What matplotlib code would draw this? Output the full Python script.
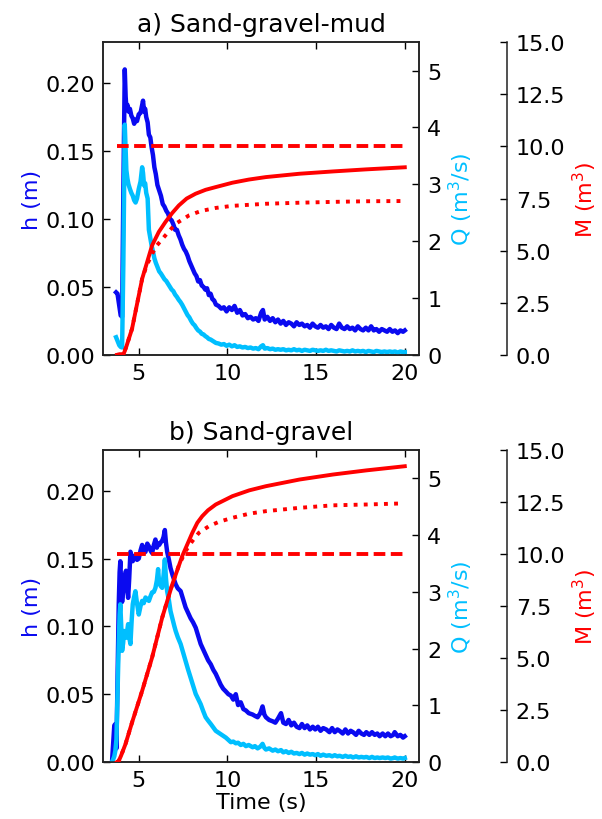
#!/usr/bin/env python3
import matplotlib
matplotlib.use("Agg")
import matplotlib.pyplot as plt

# ---- a) Sand-gravel-mud ----
t_a = [3.72, 3.80, 3.90, 3.98, 4.06, 4.13, 4.21, 4.26, 4.30, 4.36, 4.42, 4.50, 4.58, 4.66,
       4.74, 4.82, 4.90, 5.00, 5.10, 5.19, 5.24, 5.30, 5.36, 5.42, 5.50, 5.57, 5.65, 5.72,
       5.80, 5.88, 5.96, 6.05, 6.15, 6.25, 6.35, 6.45, 6.55, 6.65, 6.75, 6.85, 6.95, 7.05,
       7.15, 7.25, 7.35, 7.45, 7.55, 7.65, 7.75, 7.85, 7.95, 8.05, 8.15, 8.25, 8.35, 8.45,
       8.55, 8.65, 8.75, 8.85, 8.95, 9.05, 9.15, 9.25, 9.35, 9.50, 9.65, 9.80, 9.95, 10.10,
       10.25, 10.40, 10.55, 10.70, 10.85, 11.00, 11.15, 11.30, 11.45, 11.60, 11.75, 11.90,
       12.00, 12.10, 12.25, 12.40, 12.55, 12.70, 12.85, 13.00, 13.15, 13.30, 13.45, 13.60,
       13.75, 13.90, 14.05, 14.20, 14.35, 14.50, 14.65, 14.80, 14.95, 15.10, 15.25, 15.40,
       15.55, 15.70, 15.85, 16.00, 16.15, 16.30, 16.45, 16.60, 16.75, 16.90, 17.05, 17.20,
       17.35, 17.50, 17.65, 17.80, 17.95, 18.10, 18.25, 18.40, 18.55, 18.70, 18.85, 19.00,
       19.15, 19.30, 19.45, 19.60, 19.75, 19.90, 20.00]
h_a = [0.046, 0.045, 0.036, 0.029, 0.028, 0.120, 0.210, 0.190, 0.182, 0.184, 0.179, 0.181,
       0.176, 0.174, 0.170, 0.173, 0.172, 0.177, 0.178, 0.184, 0.187, 0.179, 0.181, 0.175,
       0.171, 0.162, 0.160, 0.153, 0.147, 0.138, 0.133, 0.125, 0.121, 0.117, 0.111, 0.109,
       0.106, 0.104, 0.100, 0.099, 0.096, 0.092, 0.092, 0.088, 0.085, 0.081, 0.078, 0.076,
       0.073, 0.069, 0.066, 0.063, 0.060, 0.058, 0.054, 0.055, 0.051, 0.050, 0.048, 0.049,
       0.044, 0.045, 0.041, 0.040, 0.037, 0.036, 0.034, 0.035, 0.032, 0.035, 0.033, 0.036,
       0.031, 0.033, 0.029, 0.030, 0.027, 0.028, 0.026, 0.027, 0.025, 0.031, 0.033, 0.026,
       0.028, 0.025, 0.027, 0.024, 0.026, 0.023, 0.025, 0.022, 0.024, 0.023, 0.021, 0.024,
       0.022, 0.023, 0.021, 0.022, 0.020, 0.023, 0.021, 0.020, 0.022, 0.020, 0.021, 0.019,
       0.022, 0.020, 0.019, 0.023, 0.020, 0.019, 0.021, 0.019, 0.020, 0.018, 0.021, 0.019,
       0.018, 0.020, 0.018, 0.021, 0.018, 0.019, 0.017, 0.019, 0.018, 0.017, 0.019, 0.017,
       0.018, 0.016, 0.018, 0.017, 0.018]
Q_a = [0.31, 0.25, 0.17, 0.14, 0.13, 1.60, 4.05, 3.60, 3.25, 3.10, 3.00, 2.92, 2.85, 2.80,
       2.72, 2.68, 2.75, 2.92, 3.05, 3.30, 3.20, 2.98, 3.02, 2.85, 2.75, 2.20, 2.05, 1.93,
       1.82, 1.70, 1.62, 1.55, 1.47, 1.43, 1.38, 1.33, 1.30, 1.25, 1.20, 1.15, 1.12, 1.06,
       1.02, 0.97, 0.93, 0.88, 0.82, 0.76, 0.70, 0.66, 0.60, 0.55, 0.52, 0.47, 0.43, 0.41,
       0.37, 0.36, 0.33, 0.31, 0.28, 0.27, 0.25, 0.23, 0.21, 0.20, 0.18, 0.19, 0.16, 0.18,
       0.15, 0.17, 0.14, 0.15, 0.13, 0.14, 0.12, 0.13, 0.11, 0.12, 0.10, 0.15, 0.17, 0.11,
       0.12, 0.10, 0.11, 0.09, 0.10, 0.09, 0.10, 0.08, 0.09, 0.08, 0.10, 0.08, 0.09, 0.07,
       0.09, 0.08, 0.07, 0.09, 0.08, 0.07, 0.08, 0.07, 0.09, 0.07, 0.08, 0.07, 0.06, 0.08,
       0.07, 0.06, 0.07, 0.06, 0.08, 0.06, 0.07, 0.06, 0.07, 0.05, 0.07, 0.06, 0.05, 0.07,
       0.06, 0.05, 0.06, 0.05, 0.06, 0.05, 0.06, 0.04, 0.06, 0.05, 0.05]
tM_a = [3.77, 4.15, 4.30, 4.62, 5.19, 5.75, 6.13, 6.50, 6.88, 7.26, 7.70, 8.20, 8.77, 9.34,
        10.28, 11.20, 12.17, 14.06, 15.94, 17.83, 20.00]
M_a = [0.0, 0.05, 0.4, 1.25, 3.65, 5.25, 5.9, 6.37, 6.8, 7.17, 7.5, 7.73, 7.92, 8.05,
       8.26, 8.41, 8.53, 8.69, 8.8, 8.9, 9.0]
tM2_a = [3.77, 4.15, 4.30, 4.62, 5.19, 5.45, 5.94, 6.50, 7.08, 7.83, 8.50, 9.34, 10.28,
         12.17, 14.06, 15.94, 17.83, 19.81]
M2_a = [0.0, 0.05, 0.4, 1.25, 3.65, 4.3, 5.17, 5.73, 6.29, 6.69, 6.9, 7.05, 7.15,
        7.25, 7.3, 7.34, 7.37, 7.38]

# ---- b) Sand-gravel ----
t_b = [3.49, 3.56, 3.62, 3.68, 3.74, 3.80, 3.87, 3.92, 3.96, 4.01, 4.06, 4.12, 4.17, 4.22,
       4.28, 4.34, 4.40, 4.46, 4.53, 4.60, 4.66, 4.73, 4.81, 4.90, 5.00, 5.10, 5.19, 5.28,
       5.38, 5.48, 5.57, 5.66, 5.75, 5.85, 5.94, 6.02, 6.09, 6.15, 6.24, 6.32, 6.40, 6.47,
       6.53, 6.60, 6.70, 6.79, 6.90, 7.00, 7.08, 7.20, 7.36, 7.50, 7.64, 7.78, 7.92, 8.06,
       8.21, 8.35, 8.49, 8.63, 8.77, 8.91, 9.06, 9.20, 9.34, 9.48, 9.62, 9.76, 9.91, 10.05,
       10.19, 10.33, 10.47, 10.60, 10.75, 10.90, 11.04, 11.20, 11.42, 11.55, 11.70, 11.85,
       11.98, 12.08, 12.17, 12.35, 12.55, 12.70, 12.85, 13.02, 13.15, 13.30, 13.45, 13.60,
       13.75, 13.90, 14.06, 14.20, 14.35, 14.50, 14.65, 14.81, 14.95, 15.10, 15.25, 15.40,
       15.57, 15.75, 15.90, 16.05, 16.20, 16.32, 16.50, 16.65, 16.80, 16.95, 17.08, 17.25,
       17.40, 17.55, 17.70, 17.83, 18.00, 18.15, 18.30, 18.45, 18.58, 18.75, 18.90, 19.05,
       19.20, 19.35, 19.43, 19.60, 19.75, 19.90, 20.00]
h_b = [0.000, 0.015, 0.027, 0.028, 0.010, 0.060, 0.116, 0.140, 0.148, 0.130, 0.118, 0.125,
       0.131, 0.138, 0.141, 0.130, 0.121, 0.135, 0.155, 0.150, 0.148, 0.152, 0.152, 0.149,
       0.150, 0.156, 0.160, 0.154, 0.155, 0.161, 0.159, 0.156, 0.154, 0.160, 0.164, 0.158,
       0.161, 0.160, 0.162, 0.163, 0.166, 0.171, 0.162, 0.155, 0.149, 0.143, 0.138, 0.134,
       0.131, 0.128, 0.126, 0.120, 0.114, 0.110, 0.106, 0.103, 0.099, 0.093, 0.087, 0.083,
       0.079, 0.075, 0.072, 0.068, 0.065, 0.061, 0.057, 0.054, 0.052, 0.050, 0.049, 0.046,
       0.050, 0.042, 0.044, 0.039, 0.038, 0.036, 0.035, 0.034, 0.033, 0.036, 0.041, 0.035,
       0.033, 0.031, 0.030, 0.029, 0.032, 0.036, 0.029, 0.028, 0.031, 0.027, 0.029, 0.026,
       0.025, 0.028, 0.025, 0.027, 0.024, 0.026, 0.024, 0.026, 0.023, 0.025, 0.024, 0.022,
       0.025, 0.022, 0.024, 0.023, 0.021, 0.024, 0.021, 0.023, 0.022, 0.020, 0.023, 0.021,
       0.020, 0.022, 0.020, 0.022, 0.020, 0.021, 0.019, 0.021, 0.019, 0.021, 0.019, 0.020,
       0.022, 0.019, 0.020, 0.018, 0.019]
Q_b = [0.00, 0.05, 0.10, 0.20, 0.40, 1.20, 2.10, 2.60, 2.78, 2.40, 1.96, 2.10, 2.31, 2.25,
       2.19, 2.30, 2.43, 2.20, 2.08, 2.50, 2.78, 2.90, 3.01, 2.80, 2.60, 2.75, 2.84, 2.80,
       2.90, 2.87, 2.84, 2.92, 2.99, 3.00, 3.07, 3.20, 3.40, 3.15, 3.10, 3.07, 3.30, 3.57,
       3.25, 3.01, 2.85, 2.66, 2.52, 2.40, 2.31, 2.20, 2.08, 1.93, 1.78, 1.63, 1.49, 1.35,
       1.20, 1.11, 1.02, 0.90, 0.79, 0.73, 0.67, 0.61, 0.55, 0.52, 0.49, 0.46, 0.43, 0.39,
       0.35, 0.36, 0.33, 0.34, 0.30, 0.32, 0.28, 0.30, 0.26, 0.28, 0.24, 0.27, 0.32, 0.25,
       0.22, 0.24, 0.20, 0.22, 0.19, 0.21, 0.17, 0.19, 0.16, 0.18, 0.15, 0.16, 0.14, 0.16,
       0.13, 0.15, 0.13, 0.14, 0.12, 0.14, 0.11, 0.13, 0.11, 0.12, 0.10, 0.12, 0.10, 0.11,
       0.09, 0.11, 0.09, 0.10, 0.08, 0.10, 0.08, 0.09, 0.08, 0.09, 0.07, 0.09, 0.07, 0.08,
       0.07, 0.08, 0.07, 0.08, 0.06, 0.07, 0.08, 0.06, 0.07, 0.06, 0.07]
tM_b = [3.77, 3.87, 4.00, 4.25, 4.62, 5.19, 5.75, 6.32, 6.89, 7.45, 8.02, 8.30, 8.58,
        8.90, 9.34, 10.28, 11.23, 12.17, 14.06, 15.94, 17.83, 20.00]
M_b = [0.0, 0.05, 0.3, 0.86, 1.9, 3.42, 5.02, 6.94, 8.54, 9.9, 11.02, 11.5, 11.82,
       12.1, 12.38, 12.78, 13.06, 13.26, 13.58, 13.82, 14.02, 14.22]
tM2_b = [3.77, 3.87, 4.00, 4.25, 4.62, 5.19, 5.75, 6.32, 6.89, 7.26, 7.64, 8.02, 8.39,
         8.96, 9.53, 10.28, 11.23, 12.17, 14.06, 15.94, 17.83, 19.81]
M2_b = [0.0, 0.05, 0.3, 0.86, 1.9, 3.42, 5.02, 6.94, 8.54, 9.45, 10.14, 10.62, 11.02,
        11.34, 11.55, 11.74, 11.94, 12.06, 12.22, 12.34, 12.38, 12.43]

M_limit = 10.0
h_ticks = [0.0, 0.05, 0.10, 0.15, 0.20]
Q_ticks = [0, 1, 2, 3, 4, 5]
M_ticks = [0.0, 2.5, 5.0, 7.5, 10.0, 12.5, 15.0]
t_ticks = [5, 10, 15, 20]

dark_blue = "#0a0af0"
light_blue = "#00bfff"
red = "#ff0000"
fs = 16

fig = plt.figure(figsize=(6.02, 8.2), dpi=100)


def panel(rect, title, t, h, Q, tM, M, tM2, M2, xlabel=None):
    ax = fig.add_axes(rect)
    ax2 = ax.twinx()
    ax3 = ax.twinx()
    ax3.spines["right"].set_position(("axes", 1.28))
    for a in (ax, ax2, ax3):
        a.set_xlim(3, 20.8)
        for s in a.spines.values():
            s.set_linewidth(1.1)
            s.set_color("#222222")
    ax3.spines["left"].set_visible(False)
    ax3.spines["top"].set_visible(False)
    ax3.spines["bottom"].set_visible(False)

    ax.plot(t, h, color=dark_blue, lw=3.2)
    ax2.plot(t, Q, color=light_blue, lw=3.2)
    ax3.plot([tM[0], t[-1]], [M_limit, M_limit], color=red, lw=2.8, ls=(0, (3.0, 1.4)))
    ax3.plot(tM, M, color=red, lw=2.8)
    ax3.plot(tM2, M2, color=red, lw=2.8, ls=(0, (1, 1.6)))

    ax.set_ylim(0, 0.23)
    ax2.set_ylim(0, 5.5)
    ax3.set_ylim(0, 15)
    ax.set_yticks(h_ticks)
    ax.set_yticklabels(["%.2f" % v for v in h_ticks])
    ax2.set_yticks(Q_ticks)
    ax3.set_yticks(M_ticks)
    ax3.set_yticklabels(["%.1f" % v for v in M_ticks])
    ax.set_xticks(t_ticks)

    ax.tick_params(axis="both", direction="in", length=5, width=1, pad=6,
                   labelsize=fs, top=True, right=False)
    ax2.tick_params(axis="y", direction="in", length=5, width=1, pad=6, labelsize=fs)
    ax3.tick_params(axis="y", direction="in", length=5, width=1, pad=6, labelsize=fs)

    ax.set_ylabel("h (m)", color=dark_blue, fontsize=fs, labelpad=2)
    ax2.set_ylabel("Q (m$^3$/s)", color=light_blue, fontsize=fs, labelpad=4)
    ax3.set_ylabel("M (m$^3$)", color=red, fontsize=fs, labelpad=4)
    ax.set_title(title, fontsize=18, pad=8)
    if xlabel:
        ax.set_xlabel(xlabel, fontsize=fs, labelpad=1)
    return ax


panel([0.1716, 0.566, 0.5244, 0.3813], "a) Sand-gravel-mud",
      t_a, h_a, Q_a, tM_a, M_a, tM2_a, M2_a)
panel([0.1716, 0.0695, 0.5244, 0.3805], "b) Sand-gravel",
      t_b, h_b, Q_b, tM_b, M_b, tM2_b, M2_b, xlabel="Time (s)")

fig.savefig("out.png", dpi=100)
